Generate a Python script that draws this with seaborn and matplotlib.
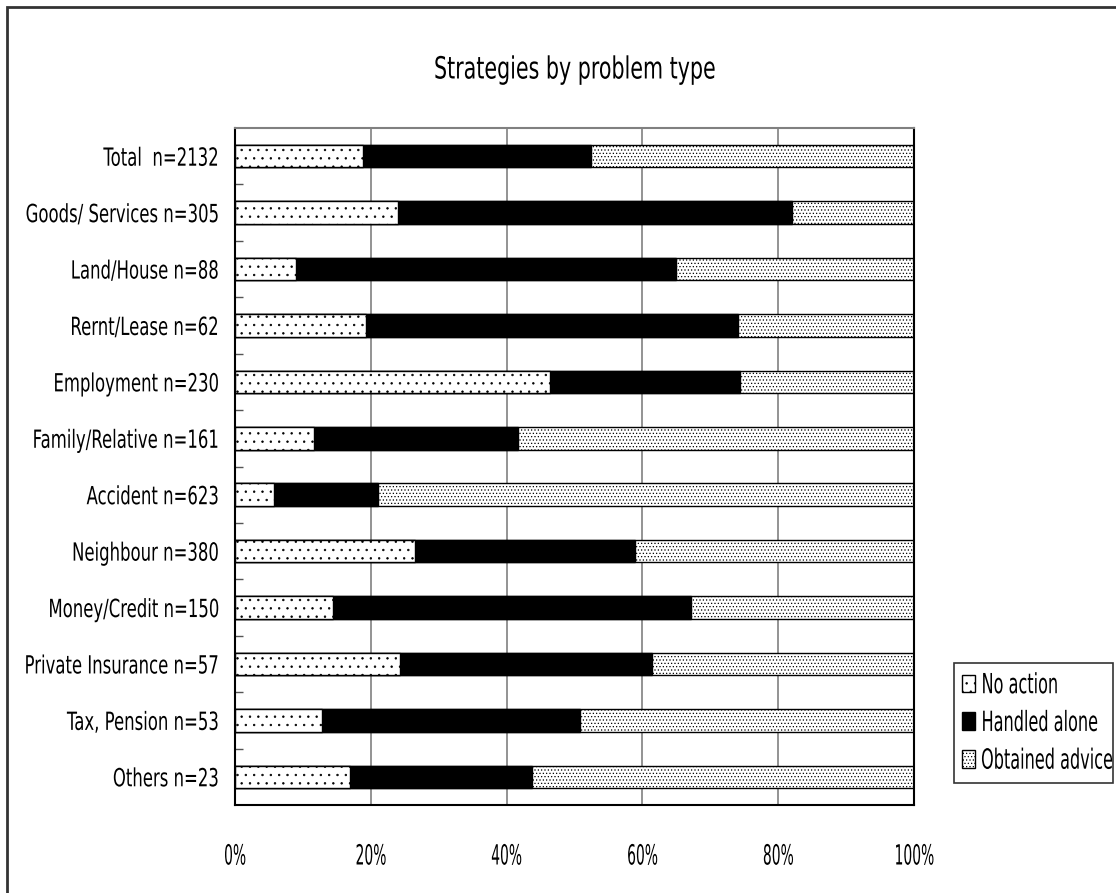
import matplotlib
matplotlib.use("Agg")
import matplotlib.pyplot as plt
from matplotlib.patches import Patch, Rectangle
from matplotlib.patheffects import AbstractPathEffect
from matplotlib.transforms import Affine2D, Bbox
import numpy as np
import pandas as pd
import seaborn as sns

categories = [
    "Total  n=2132",
    "Goods/ Services n=305",
    "Land/House n=88",
    "Rernt/Lease n=62",
    "Employment n=230",
    "Family/Relative n=161",
    "Accident n=623",
    "Neighbour n=380",
    "Money/Credit n=150",
    "Private Insurance n=57",
    "Tax, Pension n=53",
    "Others n=23",
]
no_action = [18.9, 24.0, 9.0, 19.3, 46.4, 11.6, 5.7, 26.5, 14.4, 24.3, 12.8, 16.9]
handled_alone = [33.5, 58.0, 55.9, 54.8, 28.0, 30.1, 15.4, 32.4, 52.8, 37.1, 38.0, 26.8]
obtained_advice = [round(100 - a - b, 1) for a, b in zip(no_action, handled_alone)]
series_names = ["No action", "Handled alone", "Obtained advice"]
x_ticks = [0, 20, 40, 60, 80, 100]
x_tick_labels = ["0%", "20%", "40%", "60%", "80%", "100%"]
title = "Strategies by problem type"


class Condense(AbstractPathEffect):
    """Squeeze rendered text horizontally around its anchor edge."""

    def __init__(self, sx, anchor="center"):
        super().__init__()
        self.sx = sx
        self.anchor = anchor

    def draw_path(self, renderer, gc, tpath, affine, rgbFace=None):
        ext = tpath.get_extents(affine)
        x0 = {"left": ext.x0, "right": ext.x1}.get(self.anchor, (ext.x0 + ext.x1) / 2)
        squeeze = Affine2D().translate(-x0, 0).scale(self.sx, 1).translate(x0, 0)
        renderer.draw_path(gc, tpath, affine + squeeze, rgbFace)


def condense(text, sx, anchor):
    """Apply the squeeze to a Text and report its narrowed extent."""
    text.set_path_effects([Condense(sx, anchor)])
    orig = text.get_window_extent

    def narrowed(renderer=None, dpi=None):
        bb = orig(renderer, dpi)
        x0 = {"left": bb.x0, "right": bb.x1}.get(anchor, (bb.x0 + bb.x1) / 2)
        return Bbox([[x0 + (bb.x0 - x0) * sx, bb.y0], [x0 + (bb.x1 - x0) * sx, bb.y1]])

    text.get_window_extent = narrowed


sns.set_theme(style="white")
plt.rcParams["font.family"] = ["DejaVu Sans"]
plt.rcParams["hatch.linewidth"] = 0.5
plt.rcParams["text.color"] = "black"
plt.rcParams["xtick.labelcolor"] = "black"
plt.rcParams["ytick.labelcolor"] = "black"

df = pd.DataFrame({
    "category": categories,
    "no_action": no_action,
    "handled": handled_alone,
    "advice": obtained_advice,
})
df["cum_na"] = df["no_action"]
df["cum_ha"] = df["no_action"] + df["handled"]
df["cum_ad"] = df["cum_ha"] + df["advice"]

fig = plt.figure(figsize=(11.16, 8.93), dpi=100)
ax = fig.add_axes([235 / 1116, 1 - 805 / 893, (914 - 235) / 1116, (805 - 128) / 893])

# stacked bars: draw cumulative totals back to front
layers = [
    ("cum_ad", "white", "....."),
    ("cum_ha", "black", None),
    ("cum_na", "white", ".."),
]
for col, face, hatch in layers:
    sns.barplot(data=df, x=col, y="category", orient="h", color=face,
                width=0.4, edgecolor="black", linewidth=1.0, ax=ax,
                saturation=1)
    for p in ax.containers[-1]:
        p.set_facecolor(face)
        p.set_edgecolor("black")
        if hatch:
            p.set_hatch(hatch)

ax.set_xlim(0, 100)
ax.set_ylim(len(categories) - 0.5, -0.5)
ax.set_xticks(x_ticks)
xlabels = ax.set_xticklabels(x_tick_labels, fontsize=20)
ax.tick_params(axis="x", length=0, pad=27)
ax.set_yticks(range(len(categories)))
ylabels = ax.set_yticklabels(categories, fontsize=18)
ax.tick_params(axis="y", which="major", length=0, pad=11)
ax.set_yticks(np.arange(0.5, len(categories) - 0.5, 1), minor=True)
ax.tick_params(axis="y", which="minor", direction="in", length=6, width=1,
               color="#555555", left=True)
ax.set_xlabel("")
ax.set_ylabel("")
for t in xlabels:
    condense(t, 0.5, "center")
for t in ylabels:
    condense(t, 0.66, "right")

ax.grid(False)
for xv in x_ticks[1:-1]:
    ax.axvline(xv, color="#808080", lw=1.2, zorder=0)

for side in ["left", "bottom", "right"]:
    ax.spines[side].set_color("black")
    ax.spines[side].set_linewidth(1.5)
ax.spines["top"].set_color("#808080")
ax.spines["top"].set_linewidth(1.5)

title_text = fig.text((235 + 914) / 2 / 1116, 1 - 70 / 893, title, ha="center",
                      va="center", fontsize=22)
condense(title_text, 0.675, "center")

handles = [
    Patch(facecolor="white", edgecolor="black", hatch="..", label=series_names[0]),
    Patch(facecolor="black", edgecolor="black", label=series_names[1]),
    Patch(facecolor="white", edgecolor="black", hatch=".....", label=series_names[2]),
]
leg = fig.legend(handles=handles, loc="lower left",
                 bbox_to_anchor=(954 / 1116, 1 - 783 / 893), fontsize=20,
                 frameon=True, fancybox=False, edgecolor="black",
                 handlelength=0.45, handleheight=0.6, handletextpad=0.2,
                 borderpad=0.3, labelspacing=0.35, borderaxespad=0)
leg.get_frame().set_linewidth(1.2)
for t in leg.get_texts():
    condense(t, 0.58, "left")

# the legend frame is sized for the condensed labels
_frame = leg.legendPatch
_orig_set_bounds = _frame.set_bounds


def _narrow_bounds(*args):
    x, y, w, h = args[0] if len(args) == 1 else args
    _orig_set_bounds(x, y, 159, h)


_frame.set_bounds = _narrow_bounds

# chart-area border, running off the right and bottom of the canvas
fig.patches.append(Rectangle((7 / 1116, -0.05), 1.2, 1 - 7 / 893 + 0.05,
                             transform=fig.transFigure, fill=False,
                             edgecolor="#333333", linewidth=2))

fig.savefig("out.png", dpi=100)
